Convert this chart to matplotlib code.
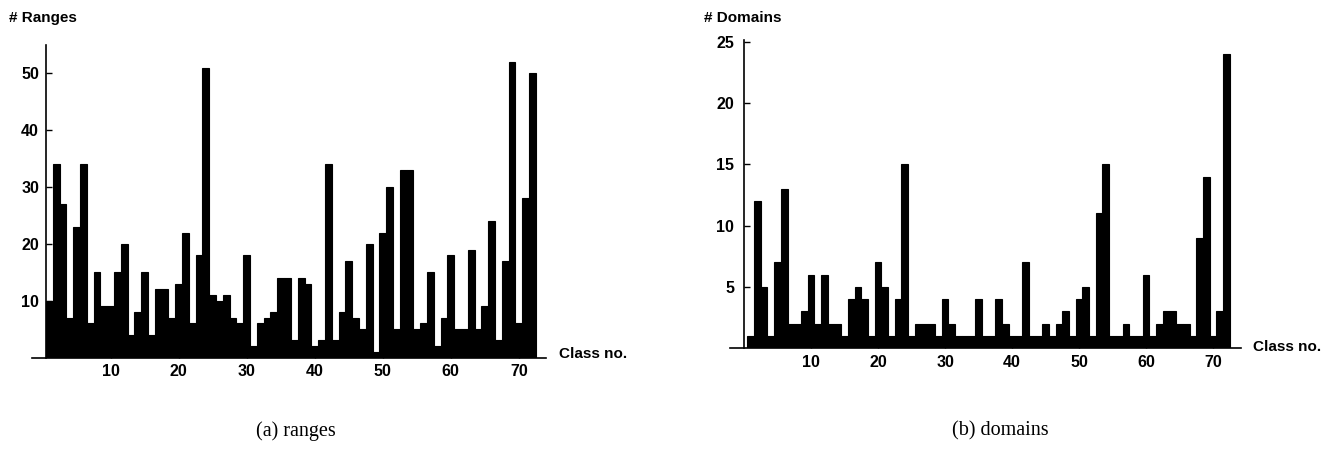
import matplotlib
matplotlib.use("Agg")
import matplotlib.pyplot as plt
import numpy as np

classes = list(range(1, 73))
ranges_counts = [10, 34, 27, 7, 23, 34, 6, 15, 9, 9, 15, 20, 4, 8, 15, 4, 12, 12,
                 7, 13, 22, 6, 18, 51, 11, 10, 11, 7, 6, 18, 2, 6, 7, 8, 14, 14,
                 3, 14, 13, 2, 3, 34, 3, 8, 17, 7, 5, 20, 1, 22, 30, 5, 33, 33,
                 5, 6, 15, 2, 7, 18, 5, 5, 19, 5, 9, 24, 3, 17, 52, 6, 28, 50]
domains_counts = [1, 12, 5, 1, 7, 13, 2, 2, 3, 6, 2, 6, 2, 2, 1, 4, 5, 4,
                  1, 7, 5, 1, 4, 15, 1, 2, 2, 2, 1, 4, 2, 1, 1, 1, 4, 1,
                  1, 4, 2, 1, 1, 7, 1, 1, 2, 1, 2, 3, 1, 4, 5, 1, 11, 15,
                  1, 1, 2, 1, 1, 6, 1, 2, 3, 3, 2, 2, 1, 9, 14, 1, 3, 24]
x_ticks = [10, 20, 30, 40, 50, 60, 70]
ranges_yticks = [10, 20, 30, 40, 50]
domains_yticks = [5, 10, 15, 20, 25]

W, H = 1336, 459
fig = plt.figure(figsize=(W / 100, H / 100), dpi=100)
sans = "Liberation Sans"
serif = "Liberation Serif"


def make_axes(px_left, px_right, px_bottom, px_top):
    return fig.add_axes([px_left / W, 1 - px_bottom / H,
                         (px_right - px_left) / W, (px_bottom - px_top) / H])


def style(ax, xlim, ylim, yspine, yticks, ypad):
    ax.set_xlim(*xlim)
    ax.set_ylim(*ylim)
    for s in ("top", "right"):
        ax.spines[s].set_visible(False)
    ax.spines["left"].set_position(("data", yspine))
    ax.spines["left"].set_linewidth(1.2)
    ax.spines["bottom"].set_linewidth(1.2)
    ax.set_xticks(x_ticks)
    ax.set_yticks(yticks)
    ax.tick_params(axis="y", direction="in", length=4, width=1, pad=ypad)
    ax.tick_params(axis="x", direction="in", length=3, width=1, pad=5)
    for lab in ax.get_xticklabels() + ax.get_yticklabels():
        lab.set_fontfamily(sans)
        lab.set_fontweight("bold")
        lab.set_fontsize(11.5)
    ax.patch.set_alpha(0)


# (a) ranges
ax1 = make_axes(32, 546, 357.5, 45)
ax1.bar(classes, ranges_counts, width=1.0, color="black", edgecolor="black",
        linewidth=0.8)
style(ax1, (0.5 - 14 / 6.8, 74.0), (0, 55), 0.5, ranges_yticks, 5)

# (b) domains
ax2 = make_axes(730, 1241, 348.3, 40)
ax2.bar(classes, domains_counts, width=1.0, color="black", edgecolor="black",
        linewidth=0.8)
style(ax2, (0.5 - 17.4 / 6.7, 0.5 + 493.6 / 6.7), (0, 25.13), 0.0,
      domains_yticks, 7)

fig.text(9 / W, 1 - 18 / H, "# Ranges", fontfamily=sans, fontweight="bold",
         fontsize=11, va="center", ha="left")
fig.text(704 / W, 1 - 18 / H, "# Domains", fontfamily=sans, fontweight="bold",
         fontsize=11, va="center", ha="left")
fig.text(559 / W, 1 - 354 / H, "Class no.", fontfamily=sans, fontweight="bold",
         fontsize=11, va="center", ha="left")
fig.text(1253 / W, 1 - 347 / H, "Class no.", fontfamily=sans, fontweight="bold",
         fontsize=11, va="center", ha="left")
fig.text(296 / W, 1 - 431 / H, "(a) ranges", fontfamily=serif,
         fontsize=14.5, va="center", ha="center")
fig.text(1000 / W, 1 - 431 / H, "(b) domains", fontfamily=serif,
         fontsize=14.5, va="center", ha="center")

fig.savefig("out.png", dpi=100)
